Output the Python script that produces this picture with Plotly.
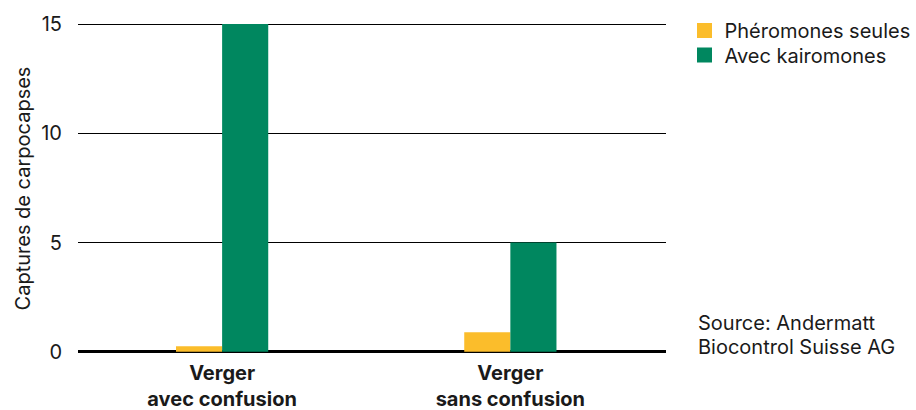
import plotly.graph_objects as go

categories = ["Verger<br>avec confusion", "Verger<br>sans confusion"]
series_names = ["Phéromones seules", "Avec kairomones"]
pheromones = [0.25, 0.9]
kairomones = [15, 5]
y_ticks = [0, 5, 10, 15]
colors = ["#FBBD2B", "#00875F"]
source_lines = ["Source: Andermatt", "Biocontrol Suisse AG"]

FONT = "Inter"
TXT = "#1a1a1a"
PL, PR, PT, PB = 78, 666, 23, 354   # plot area in px
PW, PH = PR - PL, PB - PT


def px_x(x):
    return (x - PL) / PW


def px_y(y):
    return (PB - y) / PH


fig = go.Figure()
legend_ids = ["legend", "legend2"]
for name, vals, col, lg in zip(series_names, [pheromones, kairomones], colors, legend_ids):
    fig.add_trace(go.Bar(x=list(range(len(categories))), y=vals, name=name,
                         marker=dict(color=col, line=dict(width=0)),
                         showlegend=False))
    # legend entry with a larger square swatch
    fig.add_trace(go.Scatter(x=[None], y=[None], mode="markers", name=name,
                             marker=dict(symbol="square", size=15, color=col),
                             legend=lg, showlegend=True))

leg_common = dict(xanchor="left", yanchor="middle", font=dict(size=20, family=FONT, color=TXT),
                  itemwidth=30, bgcolor="rgba(0,0,0,0)", borderwidth=0)

fig.update_layout(
    width=916, height=410,
    margin=dict(l=PL, r=916 - PR, t=PT, b=410 - PB, autoexpand=False),
    paper_bgcolor="white", plot_bgcolor="white",
    barmode="group", bargap=0.68, bargroupgap=0,
    font=dict(family=FONT, size=20, color=TXT),
    legend=dict(x=px_x(684.5), y=px_y(30.5), **leg_common),
    legend2=dict(x=px_x(684.5), y=px_y(55.0), **leg_common),
    xaxis=dict(
        tickmode="array",
        tickvals=list(range(len(categories))),
        ticktext=["<b>" + c.replace("<br>", "</b><br><b>") + "</b>" for c in categories],
        range=[-0.5, 1.54], automargin=False,
        showgrid=False, zeroline=False, showline=False, ticks="",
        ticklabelstandoff=5,
        tickfont=dict(size=20, family=FONT, color=TXT),
    ),
    yaxis=dict(
        range=[-0.1, 15.05], automargin=False,
        tickmode="array", tickvals=y_ticks,
        showgrid=True, gridcolor="black", gridwidth=1,
        zeroline=True, zerolinecolor="black", zerolinewidth=3,
        showline=False, ticks="", ticklabelstandoff=15,
        tickfont=dict(size=20, family=FONT, color=TXT),
        title=dict(text="Captures de carpocapses", standoff=5,
                   font=dict(size=20, family=FONT, color=TXT)),
    ),
)

for line, yc in zip(source_lines, [323.3, 346.7]):
    fig.add_annotation(
        text=line, xref="paper", yref="paper",
        x=px_x(696), y=px_y(yc), xanchor="left", yanchor="middle",
        align="left", showarrow=False,
        font=dict(size=20, family=FONT, color=TXT),
    )

fig.write_html("out.html")
